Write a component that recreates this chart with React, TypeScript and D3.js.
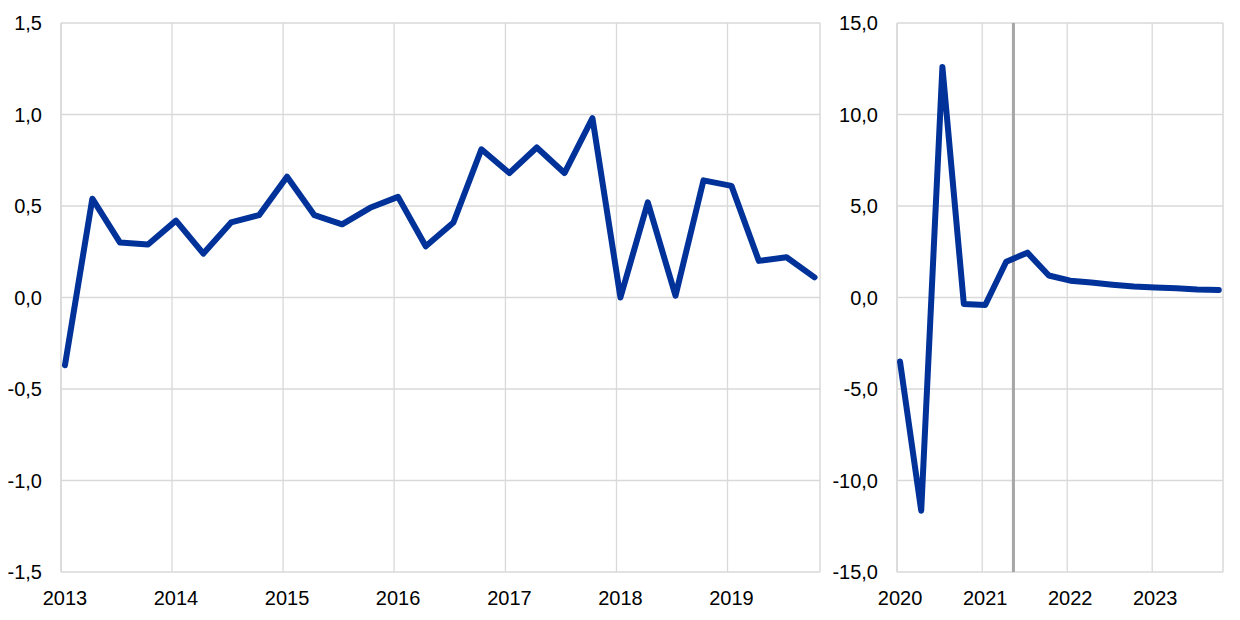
import React from "react";
import * as d3 from "d3";

// ---- Data ----
const leftStartYear = 2013;
const leftValues = [
  -0.37, 0.54, 0.3, 0.29, 0.42, 0.24, 0.41, 0.45, 0.66, 0.45, 0.4, 0.49, 0.55, 0.28,
  0.41, 0.81, 0.68, 0.82, 0.68, 0.98, 0.0, 0.52, 0.01, 0.64, 0.61, 0.2, 0.22, 0.11,
];
const leftYears = [2013, 2014, 2015, 2016, 2017, 2018, 2019];
const leftYTicks = [-1.5, -1.0, -0.5, 0.0, 0.5, 1.0, 1.5];

const rightStartYear = 2020;
const rightValues = [
  -3.5, -11.65, 12.6, -0.36, -0.41, 1.95, 2.45, 1.2, 0.92, 0.82, 0.7, 0.6, 0.55, 0.5, 0.44, 0.41,
];
const rightYears = [2020, 2021, 2022, 2023];
const rightYTicks = [-15, -10, -5, 0, 5, 10, 15];
const markerDate = new Date(2021, 4, 15);

const BLUE = "#003299";
const GRID = "#d9d9d9";
const FONT = "Liberation Sans, Arial, sans-serif";

const fmt = (v: number) => d3.format(".1f")(v).replace(".", ",").replace("−", "-");

const qDate = (start: number, i: number) =>
  new Date(start + Math.floor(i / 4), (i % 4) * 3, 14);

type PanelProps = {
  x0: number;
  x1: number;
  startYear: number;
  endDate: Date;
  values: number[];
  years: number[];
  yTicks: number[];
  yMin: number;
  yMax: number;
  marker?: Date;
};

function Panel({ x0, x1, startYear, endDate, values, years, yTicks, yMin, yMax, marker }: PanelProps) {
  const top = 23;
  const bottom = 572;
  const x = d3.scaleTime().domain([new Date(startYear, 0, 1), endDate]).range([x0, x1]);
  const y = d3.scaleLinear().domain([yMin, yMax]).range([bottom, top]);
  const pts = values.map((v, i) => ({ d: qDate(startYear, i), v }));
  const line = d3
    .line<{ d: Date; v: number }>()
    .x((p) => x(p.d))
    .y((p) => y(p.v));
  return (
    <g>
      {yTicks.map((t) => (
        <line key={"h" + t} x1={x0} x2={x1} y1={y(t)} y2={y(t)} stroke={GRID} strokeWidth={1.3} />
      ))}
      {years.map((yr) => (
        <line
          key={"v" + yr}
          x1={x(new Date(yr, 0, 1))}
          x2={x(new Date(yr, 0, 1))}
          y1={top}
          y2={bottom}
          stroke={GRID}
          strokeWidth={yr === startYear ? 1.8 : 1.3}
        />
      ))}
      <line x1={x1} x2={x1} y1={top} y2={bottom} stroke={GRID} strokeWidth={1.5} />
      {marker && (
        <line
          x1={x(marker)}
          x2={x(marker)}
          y1={top}
          y2={bottom}
          stroke="#a6a6a6"
          strokeWidth={3}
        />
      )}
      <path
        d={line(pts) || ""}
        fill="none"
        stroke={BLUE}
        strokeWidth={6}
        strokeLinejoin="round"
        strokeLinecap="round"
      />
      {yTicks.map((t) => (
        <text
          key={"yl" + t}
          x={x0 - 19}
          y={y(t)}
          dy="0.35em"
          textAnchor="end"
          fontFamily={FONT}
          fontSize={20}
          fill="#000"
        >
          {fmt(t)}
        </text>
      ))}
      {years.map((yr) => (
        <text
          key={"xl" + yr}
          x={x(new Date(yr, 0, 14))}
          y={605}
          textAnchor="middle"
          fontFamily={FONT}
          fontSize={20}
          fill="#000"
        >
          {yr}
        </text>
      ))}
    </g>
  );
}

export default function App() {
  return (
    <svg
      width={1240}
      height={620}
      style={{ position: "absolute", left: 0, top: 0, background: "#fff" }}
    >
      <rect width={1240} height={620} fill="#fff" />
      <Panel
        x0={61}
        x1={820}
        startYear={leftStartYear}
        endDate={new Date(2019, 10, 1)}
        values={leftValues}
        years={leftYears}
        yTicks={leftYTicks}
        yMin={-1.5}
        yMax={1.5}
      />
      <Panel
        x0={897}
        x1={1223}
        startYear={rightStartYear}
        endDate={new Date(2023, 10, 1)}
        values={rightValues}
        years={rightYears}
        yTicks={rightYTicks}
        yMin={-15}
        yMax={15}
        marker={markerDate}
      />
    </svg>
  );
}
